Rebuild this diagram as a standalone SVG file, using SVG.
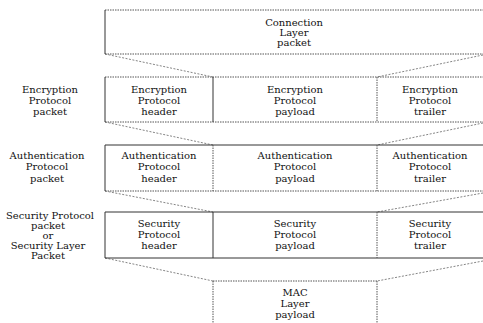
<svg xmlns="http://www.w3.org/2000/svg" width="483" height="323" viewBox="0 0 483 323">
<style>
text{font-family:"DejaVu Serif","Liberation Serif",serif;font-size:10px;fill:#111;text-anchor:middle}
.dot{fill:none;stroke:#555;stroke-width:1;stroke-dasharray:1.5 1}
.sol{fill:none;stroke:#333;stroke-width:1}
.dash{fill:none;stroke:#666;stroke-width:0.8;stroke-dasharray:2 1.5}
</style>
<rect width="483" height="323" fill="#fff"/>
<g id="connectors">
<line class="dash" x1="105" y1="54" x2="213" y2="77"/>
<line class="dash" x1="483" y1="55" x2="377" y2="77"/>
<line class="dash" x1="105" y1="122" x2="213" y2="145"/>
<line class="dash" x1="483" y1="123" x2="377" y2="145"/>
<line class="dash" x1="105" y1="191" x2="213" y2="212"/>
<line class="dash" x1="483" y1="193" x2="377" y2="212"/>
<line class="dash" x1="105" y1="258" x2="213" y2="281"/>
<line class="dash" x1="483" y1="261" x2="377" y2="281"/>
</g>
<g id="connection-layer-packet">
<line class="dot" x1="105" y1="10" x2="483" y2="10"/>
<line class="dot" x1="105" y1="54" x2="483" y2="54"/>
<line class="sol" x1="105" y1="10" x2="105" y2="54"/>
<text x="294" y="26">Connection</text>
<text x="294" y="36">Layer</text>
<text x="294" y="46">packet</text>
</g>
<g id="encryption-label">
<text x="50" y="92.5">Encryption</text>
<text x="50" y="103.5">Protocol</text>
<text x="50" y="114.5">packet</text>
</g>
<g id="encryption-row">
<line class="dot" x1="105" y1="77" x2="483" y2="77"/>
<line class="dot" x1="105" y1="122" x2="483" y2="122"/>
<line class="sol" x1="105" y1="77" x2="105" y2="122"/>
<line class="sol" x1="213" y1="77" x2="213" y2="122"/>
<line class="dot" x1="377" y1="77" x2="377" y2="122"/>
<text x="159" y="92.5">Encryption</text>
<text x="159" y="103.5">Protocol</text>
<text x="159" y="114.5">header</text>
<text x="295" y="92.5">Encryption</text>
<text x="295" y="103.5">Protocol</text>
<text x="295" y="114.5">payload</text>
<text x="430" y="92.5">Encryption</text>
<text x="430" y="103.5">Protocol</text>
<text x="430" y="114.5">trailer</text>
</g>
<g id="authentication-label">
<text x="47" y="159">Authentication</text>
<text x="47" y="170">Protocol</text>
<text x="47" y="181.5">packet</text>
</g>
<g id="authentication-row">
<line class="sol" x1="105" y1="145" x2="483" y2="145"/>
<line class="dot" x1="105" y1="191" x2="483" y2="191"/>
<line class="sol" x1="105" y1="145" x2="105" y2="191"/>
<line class="dot" x1="213" y1="145" x2="213" y2="191"/>
<line class="dot" x1="377" y1="145" x2="377" y2="191"/>
<text x="159" y="159">Authentication</text>
<text x="159" y="170">Protocol</text>
<text x="159" y="181.5">header</text>
<text x="295" y="159">Authentication</text>
<text x="295" y="170">Protocol</text>
<text x="295" y="181.5">payload</text>
<text x="430" y="159">Authentication</text>
<text x="430" y="170">Protocol</text>
<text x="430" y="181.5">trailer</text>
</g>
<g id="security-label">
<text x="50" y="218.5">Security Protocol</text>
<text x="48" y="228.5">packet</text>
<text x="48" y="238.5">or</text>
<text x="48" y="248.5">Security Layer</text>
<text x="48" y="258.5">Packet</text>
</g>
<g id="security-row">
<line class="sol" x1="105" y1="212" x2="483" y2="212"/>
<line class="sol" x1="105" y1="258" x2="483" y2="258"/>
<line class="sol" x1="105" y1="212" x2="105" y2="258"/>
<line class="sol" x1="213" y1="212" x2="213" y2="258"/>
<line class="dot" x1="377" y1="212" x2="377" y2="258"/>
<text x="159" y="226.5">Security</text>
<text x="159" y="237.5">Protocol</text>
<text x="159" y="249">header</text>
<text x="295" y="226.5">Security</text>
<text x="295" y="237.5">Protocol</text>
<text x="295" y="249">payload</text>
<text x="430" y="226.5">Security</text>
<text x="430" y="237.5">Protocol</text>
<text x="430" y="249">trailer</text>
</g>
<g id="mac-layer-payload">
<line class="dot" x1="213" y1="281" x2="377" y2="281"/>
<line class="dot" x1="213" y1="281" x2="213" y2="323"/>
<line class="dot" x1="377" y1="281" x2="377" y2="323"/>
<text x="295" y="295.5">MAC</text>
<text x="295" y="306.5">Layer</text>
<text x="295" y="317.5">payload</text>
</g>
</svg>
